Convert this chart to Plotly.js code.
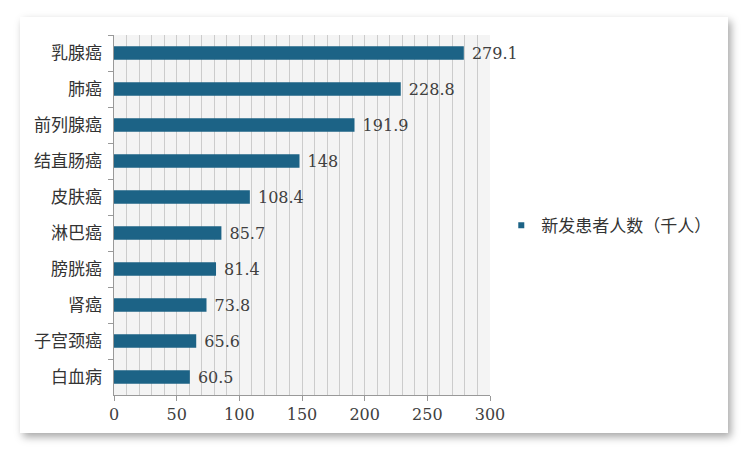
<!DOCTYPE html>
<html><head><meta charset="utf-8">
<script src="https://cdn.plot.ly/plotly-3.0.1.min.js"></script>
<style>
html,body{margin:0;padding:0;background:#fff;width:750px;height:451px;overflow:hidden}
#card{position:absolute;left:20px;top:17px;width:708px;height:416px;background:#fff;box-shadow:3px 4px 8px rgba(0,0,0,0.35)}
#chart{position:absolute;left:0;top:0;width:750px;height:451px}
</style></head><body>
<div id="card"></div>
<div id="chart"></div>
<script>
const categories = ["乳腺癌","肺癌","前列腺癌","结直肠癌","皮肤癌","淋巴癌","膀胱癌","肾癌","子宫颈癌","白血病"];
const values = [279.1,228.8,191.9,148,108.4,85.7,81.4,73.8,65.6,60.5];
const seriesName = "新发患者人数（千人）";
const xTicks = [0,50,100,150,200,250,300];
const barColor = '#1c6386';

const trace = {
  type:'bar', orientation:'h',
  y: categories, x: values, name: seriesName,
  marker:{color:barColor, line:{color:'#ffffff', width:0}},
  width:0.38,
  text: values.map(v=>' '+v), textposition:'outside', cliponaxis:false, constraintext:'none',
  textfont:{family:'"DejaVu Serif","Liberation Serif",serif', size:16, color:'#404040'},
  showlegend:false, hoverinfo:'none'
};
const legendTrace = {
  type:'scatter', mode:'markers', x:[null], y:[null], name:seriesName,
  marker:{symbol:'square', size:6, color:barColor}, showlegend:true, hoverinfo:'none'
};
const layout = {
  width:750, height:451,
  margin:{l:114, r:260, t:35, b:56},
  paper_bgcolor:'rgba(0,0,0,0)', plot_bgcolor:'#f4f4f4',
  showlegend:true,
  legend:{x:1.03, y:0.47, xanchor:'left', yanchor:'middle',
    font:{family:'"Noto Sans CJK SC",sans-serif', size:17, color:'#333'},
    itemwidth:30, bgcolor:'rgba(0,0,0,0)'},
  xaxis:{range:[0,300], tickvals:xTicks, ticks:'outside', ticklen:5, tickcolor:'#999',
    showline:true, linecolor:'#999', linewidth:1,
    showgrid:true, gridcolor:'#cccccc', gridwidth:1,
    minor:{dtick:10, tick0:0, showgrid:true, gridcolor:'#cccccc', gridwidth:1},
    zeroline:false,
    tickfont:{family:'"DejaVu Serif","Liberation Serif",serif', size:16, color:'#404040'}},
  yaxis:{autorange:'reversed', type:'category', tickson:'boundaries', ticks:'outside', ticklen:5, tickcolor:'#999',
    showline:true, linecolor:'#999', linewidth:1, showgrid:false,
    ticksuffix:'  ',
    tickfont:{family:'"Noto Sans CJK SC",sans-serif', size:17, color:'#333'}},
  bargap:0.62
};
Plotly.newPlot('chart',[trace, legendTrace],layout,{staticPlot:true,displayModeBar:false});
</script></body></html>
